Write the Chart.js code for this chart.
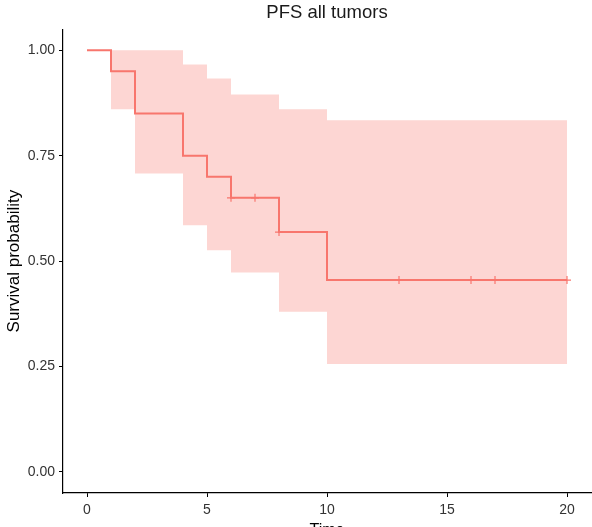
<!DOCTYPE html>
<html>
<head>
<meta charset="utf-8">
<script src="https://cdn.jsdelivr.net/npm/chart.js@4"></script>
<style>
html,body{margin:0;padding:0;background:#fff;overflow:hidden;}
#wrap{width:592px;height:527px;position:relative;}
</style>
</head>
<body>
<div id="wrap"><canvas id="c" width="592" height="527"></canvas></div>
<script>
// Kaplan-Meier estimate
const survTimes = [0, 1, 2, 4, 5, 6, 8, 10, 20];
const survValues = [1.00, 0.95, 0.85, 0.75, 0.70, 0.65, 0.5688, 0.455, 0.455];
// Confidence band
const ciTimes = [1, 2, 4, 5, 6, 8, 10, 20];
const ciUpper = [1.00, 1.00, 0.966, 0.933, 0.895, 0.860, 0.834, 0.834];
const ciLower = [0.860, 0.708, 0.585, 0.526, 0.473, 0.380, 0.256, 0.256];
// Censored observations
const censorTimes = [6, 7, 8, 13, 16, 17, 20];
const censorValues = [0.65, 0.65, 0.5688, 0.455, 0.455, 0.455, 0.455];
// Axis ticks
const xTicks = [0, 5, 10, 15, 20];
const yTicks = [0, 0.25, 0.5, 0.75, 1.0];

const lineColor = '#F8766D';
const bandColor = 'rgba(248,118,109,0.3)';
const FONT = "'Liberation Sans', Arial, sans-serif";

const toXY = (xs, ys) => xs.map((x, i) => ({x: x, y: ys[i]}));

new Chart(document.getElementById('c'), {
  type: 'line',
  data: {
    datasets: [
      {
        label: 'upper',
        data: toXY(ciTimes, ciUpper),
        stepped: 'before',
        borderWidth: 0,
        borderColor: 'rgba(0,0,0,0)',
        pointRadius: 0,
        fill: false,
        order: 3
      },
      {
        label: 'lower',
        data: toXY(ciTimes, ciLower),
        stepped: 'before',
        borderWidth: 0,
        borderColor: 'rgba(0,0,0,0)',
        backgroundColor: bandColor,
        pointRadius: 0,
        fill: '-1',
        order: 2
      },
      {
        label: 'survival',
        data: toXY(survTimes, survValues),
        stepped: 'before',
        borderColor: lineColor,
        borderWidth: 2,
        pointRadius: 0,
        fill: false,
        order: 1
      },
      {
        label: 'censor',
        type: 'scatter',
        data: toXY(censorTimes, censorValues),
        pointStyle: 'cross',
        pointRadius: 4,
        pointBorderWidth: 1.2,
        borderColor: lineColor,
        backgroundColor: lineColor,
        showLine: false,
        order: 0
      }
    ]
  },
  options: {
    responsive: false,
    animation: false,
    events: [],
    layout: {autoPadding: false, padding: {left: 0, right: 1, top: 0, bottom: 0}},
    plugins: {
      legend: {display: false},
      tooltip: {enabled: false},
      title: {
        display: true,
        fullSize: false,
        text: 'PFS all tumors',
        color: '#1a1a1a',
        font: {family: FONT, size: 18.5, weight: 'normal'},
        padding: {top: 2, bottom: 5}
      }
    },
    scales: {
      x: {
        type: 'linear',
        min: -1,
        max: 21,
        afterBuildTicks: s => { s.ticks = xTicks.map(v => ({value: v})); },
        afterFit: s => { s.height = 34; },
        grid: {drawOnChartArea: false, drawTicks: true, tickLength: 4, tickColor: '#000'},
        border: {display: true, color: '#000', width: 1.2},
        ticks: {color: '#333', font: {family: FONT, size: 14}, padding: 5},
        title: {display: true, text: 'Time', color: '#000', font: {family: FONT, size: 16}, padding: {top: 0, bottom: -13}}
      },
      y: {
        type: 'linear',
        min: -0.05,
        max: 1.05,
        afterBuildTicks: s => { s.ticks = yTicks.map(v => ({value: v})); },
        afterFit: s => { s.width = 63; },
        grid: {drawOnChartArea: false, drawTicks: true, tickLength: 4, tickColor: '#000'},
        border: {display: true, color: '#000', width: 1.2},
        ticks: {color: '#333', font: {family: FONT, size: 14}, padding: 4, callback: v => v.toFixed(2)},
        title: {display: true, text: 'Survival probability', color: '#000', font: {family: FONT, size: 17}, padding: {top: 4, bottom: 2}}
      }
    }
  }
});
</script>
</body>
</html>
